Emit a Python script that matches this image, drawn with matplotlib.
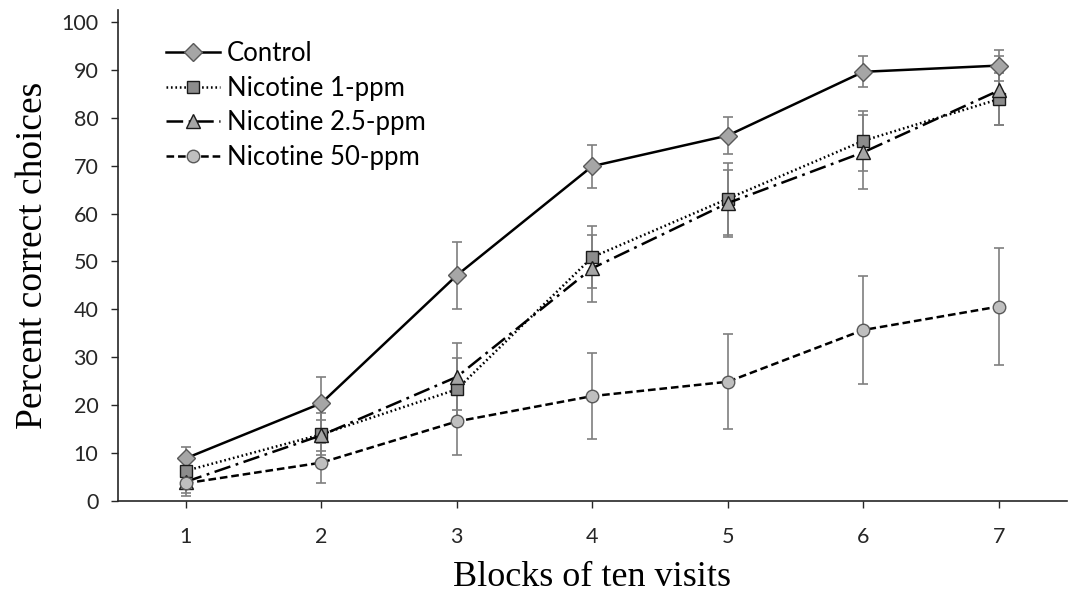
import matplotlib
matplotlib.use("Agg")
import matplotlib.pyplot as plt
import numpy as np

plt.rcParams['lines.scale_dashes'] = False

blocks = [1, 2, 3, 4, 5, 6, 7]
tick_labels = ['1', '2', '3', '4', '5', '6', '7']

control = [8.9, 20.4, 47.1, 69.9, 76.3, 89.6, 90.9]
control_err = [2.4, 5.4, 7.0, 4.5, 3.9, 3.2, 3.2]

nic1 = [6.3, 13.9, 23.3, 50.9, 63.1, 75.2, 83.9]
nic1_err = [2.0, 4.4, 6.6, 6.5, 7.5, 6.3, 5.5]

nic25 = [4.0, 13.7, 25.9, 48.6, 62.2, 72.8, 85.7]
nic25_err = [3.0, 3.2, 7.0, 7.0, 7.0, 7.7, 7.2]

nic50 = [3.7, 8.0, 16.6, 21.9, 24.9, 35.7, 40.6]
nic50_err = [2.0, 4.2, 7.0, 9.0, 9.9, 11.2, 12.2]

labels = ['Control', 'Nicotine 1-ppm', 'Nicotine 2.5-ppm', 'Nicotine 50-ppm']

fig = plt.figure(figsize=(10.72, 5.96), dpi=100)
ax = fig.add_axes([0.110, 0.1594, 0.885, 0.8238])

err_kw = dict(ecolor='#7f7f7f', elinewidth=1.2, capsize=3.5, capthick=1.2)

series = [
    (control, control_err, dict(ls='-', marker='D', ms=9.5, mfc='#a6a6a6', mec='#595959', mew=1.0)),
    (nic1, nic1_err, dict(ls=(0, (1.2, 2.0)), marker='s', ms=9, mfc='#8c8c8c', mec='#1a1a1a', mew=1.0)),
    (nic25, nic25_err, dict(ls=(0, (12, 4, 2, 4)), marker='^', ms=10, mfc='#a6a6a6', mec='#1a1a1a', mew=1.0)),
    (nic50, nic50_err, dict(ls=(0, (5.5, 2.8)), marker='o', ms=9, mfc='#bfbfbf', mec='#595959', mew=1.0)),
]

handles = []
for (vals, errs, style), lab in zip(series, labels):
    ax.errorbar(blocks, vals, yerr=errs, fmt='none', zorder=2, **err_kw)
    h, = ax.plot(blocks, vals, color='black', lw=1.8, label=lab, zorder=3, **style)
    handles.append(h)

ax.set_xlim(0.5, 7.5)
ax.set_ylim(0, 102.5)
ax.set_xticks(blocks)
ax.set_xticklabels(tick_labels)
ax.set_yticks(np.arange(0, 101, 10))

for s in ['top', 'right']:
    ax.spines[s].set_visible(False)
for s in ['left', 'bottom']:
    ax.spines[s].set_color('#262626')
    ax.spines[s].set_linewidth(1.2)

ax.tick_params(axis='both', direction='out', length=5, width=1.0, color='#262626',
               labelsize=15.5, labelcolor='#262626')
ax.tick_params(axis='x', pad=14)
ax.tick_params(axis='y', pad=9)
for t in ax.get_xticklabels() + ax.get_yticklabels():
    t.set_family('Lato')

ax.set_xlabel('Blocks of ten visits', family='Liberation Serif', fontsize=26, labelpad=10)
ax.set_ylabel('Percent correct choices', family='Liberation Serif', fontsize=27, labelpad=8)

leg = ax.legend(handles=handles, loc='upper left', bbox_to_anchor=(0.040, 0.957),
                frameon=False, prop={'family': 'Lato', 'size': 18.5},
                handlelength=2.1, handletextpad=0.27, labelspacing=0.37, borderaxespad=0)

fig.savefig('out.png', dpi=100)
